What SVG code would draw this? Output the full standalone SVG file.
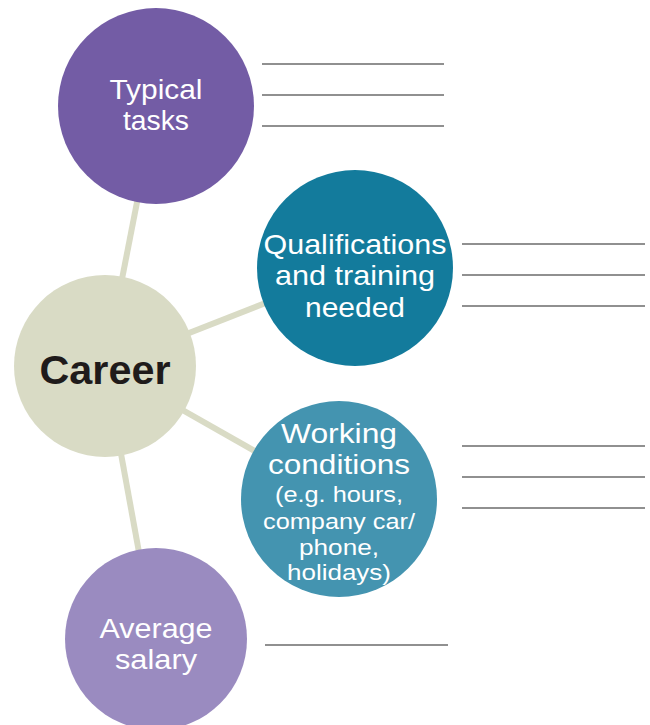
<svg xmlns="http://www.w3.org/2000/svg" width="650" height="725" viewBox="0 0 650 725">
<style>
.conn{stroke:#D9DBC5;stroke-width:6;fill:none}
.ans{stroke:#6b6b6b;stroke-width:1.4}
.lbl{font-family:"Liberation Sans",Arial,sans-serif;fill:#fff;text-anchor:middle;font-size:27.5px}
.sm{font-size:22.5px}
.career{font-family:"Liberation Sans",Arial,sans-serif;font-weight:bold;fill:#1f1b1b;text-anchor:middle;font-size:40px}
</style>
<rect width="650" height="725" fill="#fff"/>
<g id="connectors">
<line class="conn" x1="105" y1="366" x2="156" y2="105"/>
<line class="conn" x1="105" y1="366" x2="355" y2="268"/>
<line class="conn" x1="105" y1="366" x2="339" y2="499"/>
<line class="conn" x1="105" y1="366" x2="155" y2="640"/>
</g>
<g id="typical">
<circle cx="156" cy="106" r="98" fill="#735CA5"/>
<text class="lbl" x="156" y="99" textLength="93" lengthAdjust="spacingAndGlyphs">Typical</text>
<text class="lbl" x="156" y="130" textLength="66" lengthAdjust="spacingAndGlyphs">tasks</text>
<line class="ans" x1="262" y1="64" x2="444" y2="64"/>
<line class="ans" x1="262" y1="95" x2="444" y2="95"/>
<line class="ans" x1="262" y1="126" x2="444" y2="126"/>
</g>
<g id="qualifications">
<circle cx="355" cy="268" r="98" fill="#137B9C"/>
<text class="lbl" x="355" y="254" textLength="183" lengthAdjust="spacingAndGlyphs">Qualifications</text>
<text class="lbl" x="355" y="285" textLength="160" lengthAdjust="spacingAndGlyphs">and training</text>
<text class="lbl" x="355" y="317" textLength="100" lengthAdjust="spacingAndGlyphs">needed</text>
<line class="ans" x1="462" y1="244" x2="645" y2="244"/>
<line class="ans" x1="462" y1="275" x2="645" y2="275"/>
<line class="ans" x1="462" y1="306" x2="645" y2="306"/>
</g>
<g id="career">
<circle cx="105" cy="366" r="91" fill="#D9DBC5"/>
<text class="career" x="105" y="384" textLength="131" lengthAdjust="spacingAndGlyphs">Career</text>
</g>
<g id="working">
<circle cx="339" cy="499" r="98" fill="#4494B0"/>
<text class="lbl" x="339" y="443" textLength="116" lengthAdjust="spacingAndGlyphs">Working</text>
<text class="lbl" x="339" y="474" textLength="142" lengthAdjust="spacingAndGlyphs">conditions</text>
<text class="lbl sm" x="339" y="502" textLength="128" lengthAdjust="spacingAndGlyphs">(e.g. hours,</text>
<text class="lbl sm" x="339" y="529" textLength="152" lengthAdjust="spacingAndGlyphs">company car/</text>
<text class="lbl sm" x="339" y="555" textLength="80" lengthAdjust="spacingAndGlyphs">phone,</text>
<text class="lbl sm" x="339" y="580" textLength="104" lengthAdjust="spacingAndGlyphs">holidays)</text>
<line class="ans" x1="462" y1="446" x2="645" y2="446"/>
<line class="ans" x1="462" y1="477" x2="645" y2="477"/>
<line class="ans" x1="462" y1="508" x2="645" y2="508"/>
</g>
<g id="salary">
<circle cx="156" cy="639" r="91" fill="#9A8BC0"/>
<text class="lbl" x="156" y="638" textLength="113" lengthAdjust="spacingAndGlyphs">Average</text>
<text class="lbl" x="156" y="669" textLength="82" lengthAdjust="spacingAndGlyphs">salary</text>
<line class="ans" x1="265" y1="645" x2="448" y2="645"/>
</g>
</svg>
